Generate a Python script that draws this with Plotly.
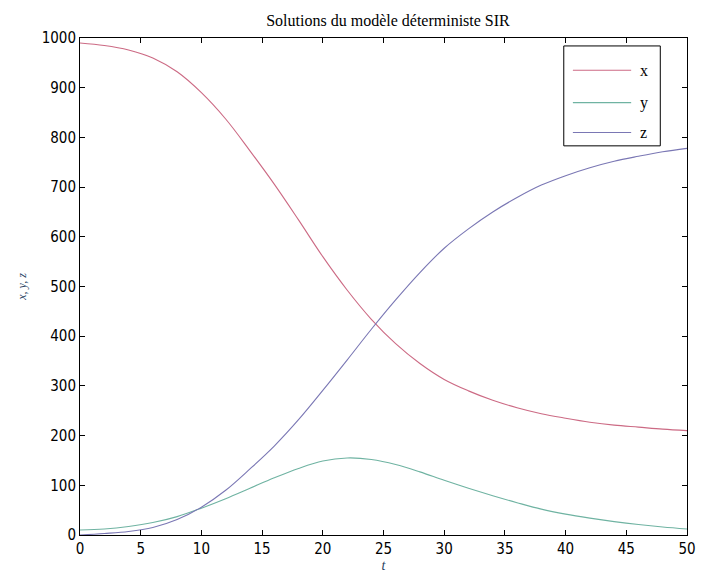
import plotly.graph_objects as go

# Time grid (days) and the three SIR compartments read at each time
t = list(range(0, 51, 2))
x_vals = [990, 985, 976, 960, 932, 890, 837, 773, 706, 634, 560, 493, 434,
          385, 345, 313, 290, 271, 256, 244, 235, 227, 221, 217, 213, 210]
y_vals = [10, 12, 17, 25, 37, 54, 73, 94, 115, 134, 149, 155, 152, 142, 127,
          110, 94, 79, 65, 52, 42, 34, 27, 21, 16, 12]
z_vals = [0, 3, 7, 15, 31, 56, 90, 133, 179, 232, 291, 352, 414, 473, 528,
          577, 616, 650, 679, 704, 723, 739, 752, 762, 771, 778]

x_ticks = list(range(0, 51, 5))
y_ticks = list(range(0, 1001, 100))

names = ["x", "y", "z"]
colors = ["#cc6a84", "#6fb3a2", "#7a77b4"]
series = [x_vals, y_vals, z_vals]

fig = go.Figure()
for name, col, vals in zip(names, colors, series):
    fig.add_trace(go.Scatter(x=t, y=vals, mode="lines", name=name,
                             line=dict(color=col, width=1.1, shape="spline",
                                       smoothing=1.0),
                             showlegend=False))

# Boxed legend in the upper right corner, drawn in paper coordinates
leg_x0, leg_x1 = 0.797, 0.956
leg_y0, leg_y1 = 0.783, 0.984
fig.add_shape(type="rect", xref="paper", yref="paper",
              x0=leg_x0, x1=leg_x1, y0=leg_y0, y1=leg_y1,
              line=dict(color="black", width=1), fillcolor="white")
rows = [0.935, 0.870, 0.810]
for name, col, yy in zip(names, colors, rows):
    fig.add_shape(type="line", xref="paper", yref="paper",
                  x0=0.812, x1=0.908, y0=yy, y1=yy,
                  line=dict(color=col, width=1.1))
    fig.add_annotation(xref="paper", yref="paper", x=0.920, y=yy,
                       text=name, showarrow=False, xanchor="left",
                       yanchor="middle",
                       font=dict(family="Liberation Serif", size=16,
                                 color="black"))

tick_font = dict(family="DejaVu Sans Condensed, Liberation Sans, Arial",
                 size=15, color="black")
axis_common = dict(showline=True, linecolor="black", linewidth=1,
                   mirror="ticks", ticks="inside", ticklen=5,
                   tickcolor="black", showgrid=False, zeroline=False,
                   tickfont=tick_font)

fig.update_layout(
    width=705, height=579,
    margin=dict(l=80, r=9, t=38, b=40),
    paper_bgcolor="white", plot_bgcolor="white",
    title=dict(text="Solutions du modèle déterministe SIR",
               x=(80 + 696) / 2 / 705, xanchor="center",
               y=1 - 20 / 579, yanchor="middle",
               font=dict(family="Liberation Serif", size=16, color="black")),
    xaxis=dict(range=[0, 50], tickvals=x_ticks, **axis_common,
               title=dict(text="<i>t</i>", standoff=2,
                          font=dict(family="Liberation Serif", size=14))),
    yaxis=dict(range=[0, 1000], tickvals=y_ticks, **axis_common,
               title=dict(text="<i>x, y, z</i>", standoff=12,
                          font=dict(family="Liberation Serif", size=12))),
)

fig.write_html("out.html")
